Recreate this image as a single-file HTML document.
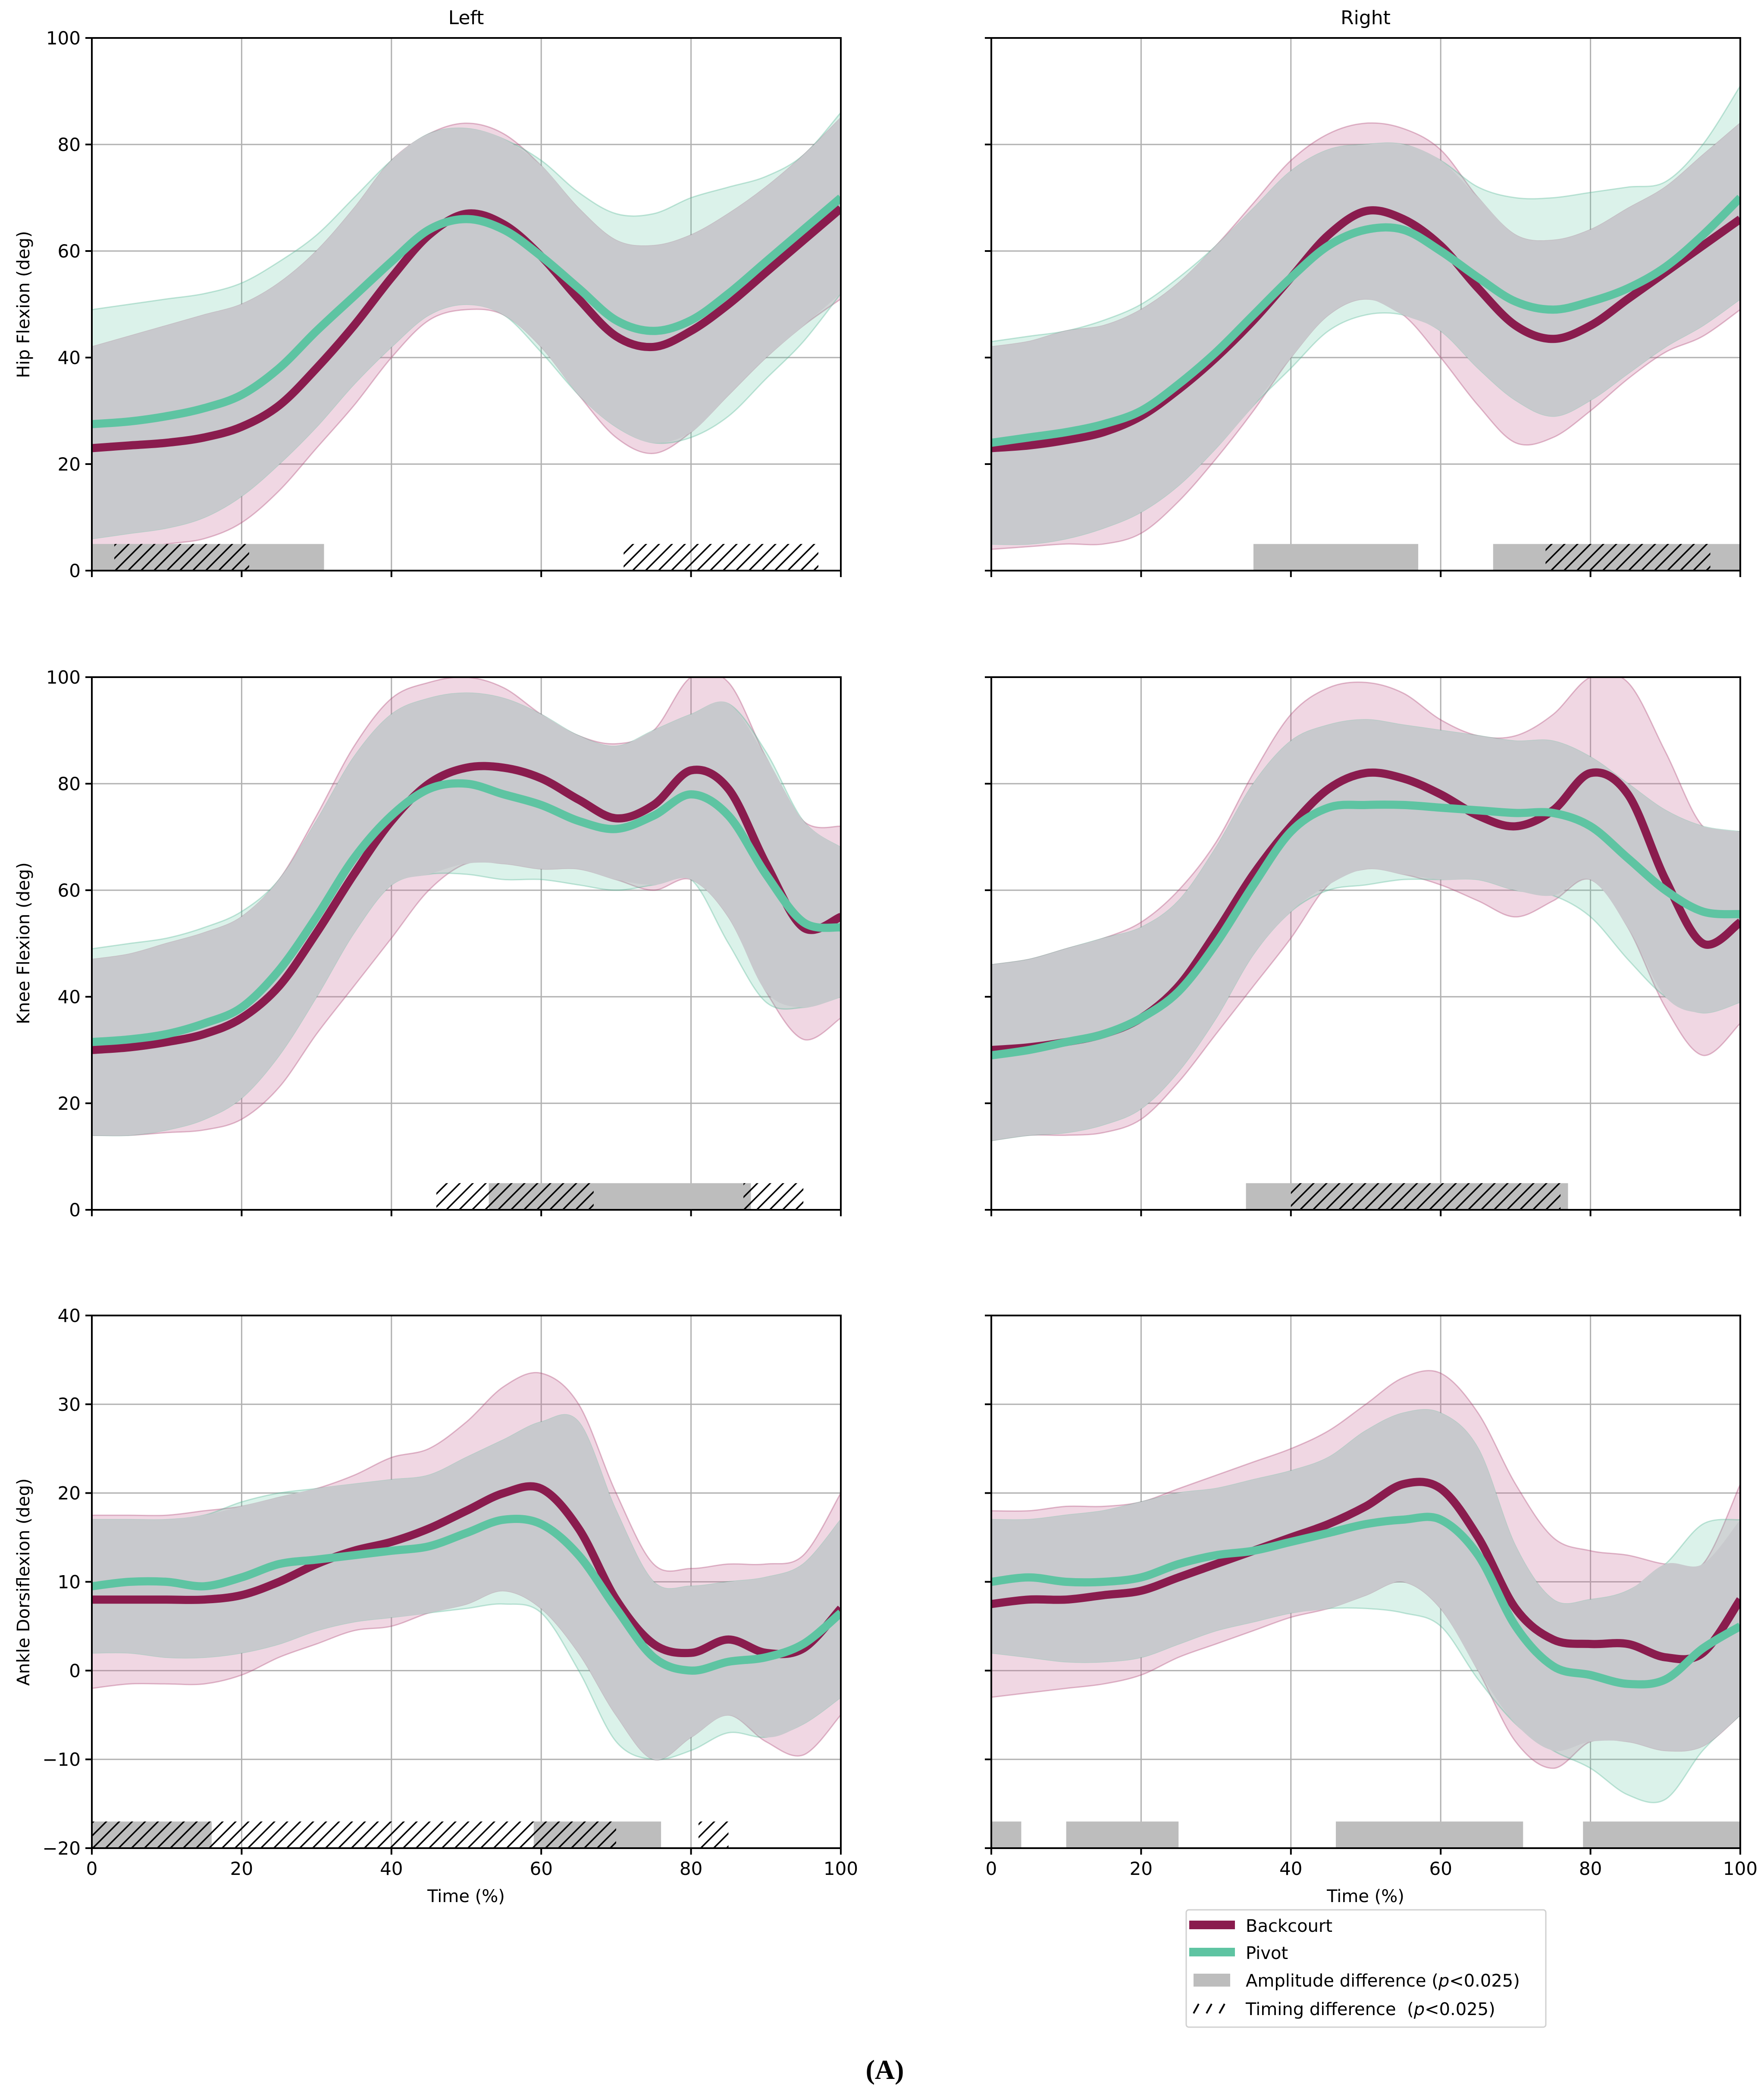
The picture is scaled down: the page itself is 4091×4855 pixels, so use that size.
<!DOCTYPE html>
<html><head><meta charset="utf-8"><style>
html,body{margin:0;padding:0;background:#fff;}
svg{display:block;font-family:"DejaVu Sans","Liberation Sans",sans-serif;}
</style></head><body>
<svg id="fig" width="4091" height="4855" viewBox="0 0 4091 4855" xmlns="http://www.w3.org/2000/svg">
<defs>
<pattern id="hatch" patternUnits="userSpaceOnUse" width="30" height="30">
<path d="M-8,38 L38,-8 M-8,8 L8,-8 M22,38 L38,22" stroke="#000" stroke-width="3.5"/>
</pattern>
</defs>
<g id="root"></g>
<text x="1081" y="56" font-size="44" text-anchor="middle">Left</text>
<text x="3167" y="56" font-size="44" text-anchor="middle">Right</text>
<text x="1081" y="4410" font-size="40" text-anchor="middle">Time (%)</text>
<text x="3167" y="4410" font-size="40" text-anchor="middle">Time (%)</text>
<text transform="translate(68,706) rotate(-90)" font-size="40" text-anchor="middle">Hip Flexion (deg)</text>
<text transform="translate(68,2187) rotate(-90)" font-size="40" text-anchor="middle">Knee Flexion (deg)</text>
<text transform="translate(68,3668) rotate(-90)" font-size="40" text-anchor="middle">Ankle Dorsiflexion (deg)</text>
<g>
<rect x="2751" y="4428" width="834" height="272" rx="6" fill="#fff" stroke="#d0d0d0" stroke-width="3"/>
<rect x="2758" y="4453" width="106" height="20" fill="#8a1c4e"/>
<text x="2889" y="4479" font-size="40">Backcourt</text>
<rect x="2758" y="4516" width="106" height="20" fill="#5ec4a2"/>
<text x="2889" y="4542" font-size="40">Pivot</text>
<rect x="2768" y="4576" width="85" height="30" fill="#bdbdbd"/>
<text x="2889" y="4606" font-size="40">Amplitude difference (<tspan font-style="italic">p</tspan>&lt;0.025)</text>
<g stroke="#000" stroke-width="4"><line x1="2768" y1="4668" x2="2780" y2="4646"/><line x1="2798" y1="4668" x2="2810" y2="4646"/><line x1="2828" y1="4668" x2="2840" y2="4646"/></g>
<text x="2889" y="4672" font-size="40">Timing difference&#160; (<tspan font-style="italic">p</tspan>&lt;0.025)</text>
</g>
<text x="2052" y="4820" font-size="64" font-weight="bold" text-anchor="middle" font-family="Liberation Serif, serif">(A)</text>
</svg>
<script>
const xs = [0,5,10,15,20,25,30,35,40,45,50,55,60,65,70,75,80,85,90,95,100];
// Hip left
const hipL_bMean=[23,23.5,24,25,27,31,38,46,55,63,67,65,59,51,44,42,45,50,56,62,68];
const hipL_pMean=[27.5,28,29,30.5,33,38,45,51.5,58,64,66,64,59,53,47,45,47,52,58,64,70];
const hipL_bUp=[42,44,46,48,50,54,60,68,77,82,84,82,76,68,62,61,63,67,72,78,85];
const hipL_bLo=[4,4,5,6,9,15,23,31,40,47,49,48,42,33,25,22,26,33,40,46,51];
const hipL_pUp=[49,50,51,52,54,58,63,70,77,82,83,81,77,71,67,67,70,72,74,78,86];
const hipL_pLo=[6,7,8,10,14,20,27,35,42,48,50,48,41,33,27,24,25,29,36,43,52];
const hipL_amp=[[0,31]];
const hipL_tim=[[3,21],[71,97]];
// Hip right
const hipR_bMean=[23,23.5,24.5,26,29,34,40,47,55,63,67.5,66,61,53,46,43.5,46,51,56,61,66];
const hipR_pMean=[24,25,26,27.5,30,35,41,48,55,61,64,64,60,55,50.5,49,50.5,53,57,63,70];
const hipR_bUp=[42,43,45,46,49,54,61,69,77,82,84,83,79,70,63,62,64,68,72,78,84];
const hipR_bLo=[4,4.5,5,5,7,13,21,30,40,48,51,48,40,31,24,25,30,36,41,44,49];
const hipR_pUp=[43,44,45,47,50,55,61,68,75,79,80,80,77,72,70,70,71,72,73,80,91];
const hipR_pLo=[5,5,6,8,11,16,23,31,38,45,48,48,45,38,32,29,32,37,42,46,51];
const hipR_amp=[[35,57],[67,100]];
const hipR_tim=[[74,96]];
// Knee left
const kneeL_bMean=[30,30.5,31.5,33,36,42,52,63,73,80,83,83,81,77,73.5,76,82.5,79,65,53,55];
const kneeL_pMean=[31.5,32,33,35,38,45,55,66,74,79,80,78,76,73,71.5,74,78,74,63,54,53];
const kneeL_bUp=[47,48,50,52,55,62,74,87,96,99,100,98,93,89,87.5,90,100,99,85,73,72];
const kneeL_bLo=[14,14,14.5,15,17,23,33,42,51,60,65,65,64,64,62,60,62,55,41,32,36];
const kneeL_pUp=[49,50,51,53,56,62,73,85,93,96,97,96,93,89,87,90,93,95,86,73,68];
const kneeL_pLo=[14,14,15,17,21,29,40,52,61,63,63,62,62,61,60,61,62,50,39,38,40];
const kneeL_amp=[[53,88]];
const kneeL_tim=[[46,67],[87,95]];
// Knee right
const kneeR_bMean=[30,30.5,31.5,33,36,42,52,63,72,79,82,81,78,74,72,75,82,78,62,50,54];
const kneeR_pMean=[29,30,31.5,33,36,41,50,61,71,75.5,76,76,75.5,75,74.5,74.5,72,66,60,56,55.5];
const kneeR_bUp=[46,47,49,51,54,60,69,82,93,98,99,97,92,89,89,93,100,99,86,72,71];
const kneeR_bLo=[13,14,14,14.5,17,24,33,42,51,61,64,63,61,58,55,58,62,53,38,29,35];
const kneeR_pUp=[46,47,49,51,53,58,68,80,88,91,92,91,90,89,88,88,85,80,75,72,71];
const kneeR_pLo=[13,14,14.5,16,19,26,36,48,56,60,61,62,62,62,60,59,55,47,40,37,39];
const kneeR_amp=[[34,77]];
const kneeR_tim=[[40,76]];
// Ankle left
const ankL_bMean=[8,8,8,8,8.5,10,12,13.5,14.5,16,18,20,20.5,16,8,3,2,3.5,2,2.5,7];
const ankL_pMean=[9.5,10,10,9.5,10.5,12,12.5,13,13.5,14,15.5,17,16.5,13,7,1.5,0,1,1.5,3,6.5];
const ankL_bUp=[17.5,17.5,17.5,18,18.5,19.5,20.5,22,24,25,28,32,33.5,30,20,12,11.5,12,12,13,20];
const ankL_bLo=[-2,-1.5,-1.5,-1.5,-0.5,1.5,3,4.5,5,6.5,7.5,9,7,2,-5,-10,-7.5,-5,-8,-9.5,-5];
const ankL_pUp=[17,17,17,17.5,19,20,20.5,21,21.5,22,24,26,28,28,18,10,9.5,10,10.5,12,17];
const ankL_pLo=[2,2,1.5,1.5,2,3,4.5,5.5,6,6.5,7,7.5,6.5,0,-8,-10,-9,-7,-7.5,-6,-3];
const ankL_amp=[[0,16],[59,76]];
const ankL_tim=[[0,70],[81,85]];
// Ankle right
const ankR_bMean=[7.5,8,8,8.5,9,10.5,12,13.5,15,16.5,18.5,21,20.5,15,7,3.5,3,3,1.5,2,8];
const ankR_pMean=[10,10.5,10,10,10.5,12,13,13.5,14.5,15.5,16.5,17,17,13,5,0.5,-0.5,-1.5,-1,2.5,5];
const ankR_bUp=[18,18,18.5,18.5,19,20.5,22,23.5,25,27,30,33,33.5,29,21,15,13.5,13,12,12,21];
const ankR_bLo=[-3,-2.5,-2,-1.5,-0.5,1.5,3,4.5,6,7,8.5,10,7,0,-8,-11,-8,-8,-9,-8.5,-5];
const ankR_pUp=[17,17,17.5,18,19,20,20.5,21.5,22.5,24,27,29,29,25,14,8,8,9,12,16.5,17];
const ankR_pLo=[2,1.5,1,1,1.5,3,4.5,5.5,6.5,7,7,6.5,5,-1,-6,-9,-11,-14,-14.5,-9,-5];
const ankR_amp=[[0,4],[10,25],[46,71],[79,100]];
const ankR_tim=[];

const NS="http://www.w3.org/2000/svg";
const root=document.getElementById('root');
function mk(tag,attrs,parent){const e=document.createElementNS(NS,tag);for(const k in attrs)e.setAttribute(k,attrs[k]);(parent||root).appendChild(e);return e;}
function smooth(pts){let d='M'+pts[0][0].toFixed(1)+','+pts[0][1].toFixed(1);for(let i=0;i<pts.length-1;i++){const p0=pts[Math.max(i-1,0)],p1=pts[i],p2=pts[i+1],p3=pts[Math.min(i+2,pts.length-1)];const c1=[p1[0]+(p2[0]-p0[0])/6,p1[1]+(p2[1]-p0[1])/6],c2=[p2[0]-(p3[0]-p1[0])/6,p2[1]-(p3[1]-p1[1])/6];d+=' C'+c1[0].toFixed(1)+','+c1[1].toFixed(1)+' '+c2[0].toFixed(1)+','+c2[1].toFixed(1)+' '+p2[0].toFixed(1)+','+p2[1].toFixed(1);}return d;}
function bandPath(up,lo,X,Y){const a=xs.map((x,i)=>[X(x),Y(up[i])]);const b=xs.map((x,i)=>[X(x),Y(lo[i])]).reverse();let d=smooth(a);d+=' L'+b[0][0]+','+b[0][1]+smooth(b).replace(/^M[^ C]+/,'')+' Z';return d;}
function panel(name,x0,y0,ymin,ymax,yticks,showY,showX,d){
  const W=1737,H=1235;
  const X=v=>x0+v/100*W, Y=v=>y0+H-(v-ymin)/(ymax-ymin)*H;
  const g=mk('g',{});
  
  
  [0,20,40,60,80,100].forEach(t=>{const l=mk('line',{x1:X(t),x2:X(t),y1:y0,y2:y0+H,stroke:'#b0b0b0','stroke-width':3},g);
    mk('line',{x1:X(t),x2:X(t),y1:y0+H,y2:y0+H+15,stroke:'#000','stroke-width':4},g);
    if(showX){const tx=mk('text',{x:X(t),y:y0+H+62,'font-size':42,'text-anchor':'middle'},g);tx.textContent=t;}});
  yticks.forEach(t=>{const l=mk('line',{x1:x0,x2:x0+W,y1:Y(t),y2:Y(t),stroke:'#b0b0b0','stroke-width':3},g);
    mk('line',{x1:x0-15,x2:x0,y1:Y(t),y2:Y(t),stroke:'#000','stroke-width':4},g);
    if(showY){const tx=mk('text',{x:x0-26,y:Y(t)+15,'font-size':42,'text-anchor':'end'},g);tx.textContent=(t<0?'\u2212'+(-t):t);}});
  const cid='clip-'+name;const cp=mk('clipPath',{id:cid},g);mk('rect',{x:x0,y:y0,width:W,height:H},cp);
  const pg=mk('g',{'clip-path':'url(#'+cid+')'},g);
  const pb=mk('path',{d:bandPath(d.bUp,d.bLo,X,Y),fill:'rgba(200,110,155,0.28)',stroke:'rgba(170,60,110,0.35)','stroke-width':3},pg);
  
  const pp=mk('path',{d:bandPath(d.pUp,d.pLo,X,Y),fill:'rgba(110,205,170,0.25)',stroke:'rgba(80,180,145,0.35)','stroke-width':3},pg);
  
  const iu=d.bUp.map((v,i)=>Math.min(v,d.pUp[i])), il=d.bLo.map((v,i)=>Math.max(v,d.pLo[i]));
  const ov=mk('path',{d:bandPath(iu,il,X,Y),fill:'#c8c9cd'},pg);
  
  const sigTop=ymin+(ymax-ymin)*0.05;
  d.amp.forEach(r=>{const e=mk('rect',{x:X(r[0]),y:Y(sigTop),width:X(r[1])-X(r[0]),height:Y(ymin)-Y(sigTop),fill:'#bdbdbd'},pg);});
  d.tim.forEach(r=>{const e=mk('rect',{x:X(r[0]),y:Y(sigTop),width:X(r[1])-X(r[0]),height:Y(ymin)-Y(sigTop),fill:'url(#hatch)'},pg);});
  const lb=mk('path',{d:smooth(xs.map((x,i)=>[X(x),Y(d.bMean[i])])),fill:'none',stroke:'#8a1c4e','stroke-width':19,'stroke-linejoin':'round'},pg);
  
  const lp=mk('path',{d:smooth(xs.map((x,i)=>[X(x),Y(d.pMean[i])])),fill:'none',stroke:'#5ec4a2','stroke-width':19,'stroke-linejoin':'round'},pg);
  
  const fr=mk('rect',{x:x0,y:y0,width:W,height:H,fill:'none',stroke:'#000','stroke-width':4},g);
  
}
const LX=213,RX=2299,R1=88,R2=1570,R3=3050;
const t100=[0,20,40,60,80,100], tA=[-20,-10,0,10,20,30,40];
panel('hip-left',LX,R1,0,100,t100,true,false,{bMean:hipL_bMean,pMean:hipL_pMean,bUp:hipL_bUp,bLo:hipL_bLo,pUp:hipL_pUp,pLo:hipL_pLo,amp:hipL_amp,tim:hipL_tim});
panel('hip-right',RX,R1,0,100,t100,false,false,{bMean:hipR_bMean,pMean:hipR_pMean,bUp:hipR_bUp,bLo:hipR_bLo,pUp:hipR_pUp,pLo:hipR_pLo,amp:hipR_amp,tim:hipR_tim});
panel('knee-left',LX,R2,0,100,t100,true,false,{bMean:kneeL_bMean,pMean:kneeL_pMean,bUp:kneeL_bUp,bLo:kneeL_bLo,pUp:kneeL_pUp,pLo:kneeL_pLo,amp:kneeL_amp,tim:kneeL_tim});
panel('knee-right',RX,R2,0,100,t100,false,false,{bMean:kneeR_bMean,pMean:kneeR_pMean,bUp:kneeR_bUp,bLo:kneeR_bLo,pUp:kneeR_pUp,pLo:kneeR_pLo,amp:kneeR_amp,tim:kneeR_tim});
panel('ankle-left',LX,R3,-20,40,tA,true,true,{bMean:ankL_bMean,pMean:ankL_pMean,bUp:ankL_bUp,bLo:ankL_bLo,pUp:ankL_pUp,pLo:ankL_pLo,amp:ankL_amp,tim:ankL_tim});
panel('ankle-right',RX,R3,-20,40,tA,false,true,{bMean:ankR_bMean,pMean:ankR_pMean,bUp:ankR_bUp,bLo:ankR_bLo,pUp:ankR_pUp,pLo:ankR_pLo,amp:ankR_amp,tim:ankR_tim});
</script>
</body></html>
